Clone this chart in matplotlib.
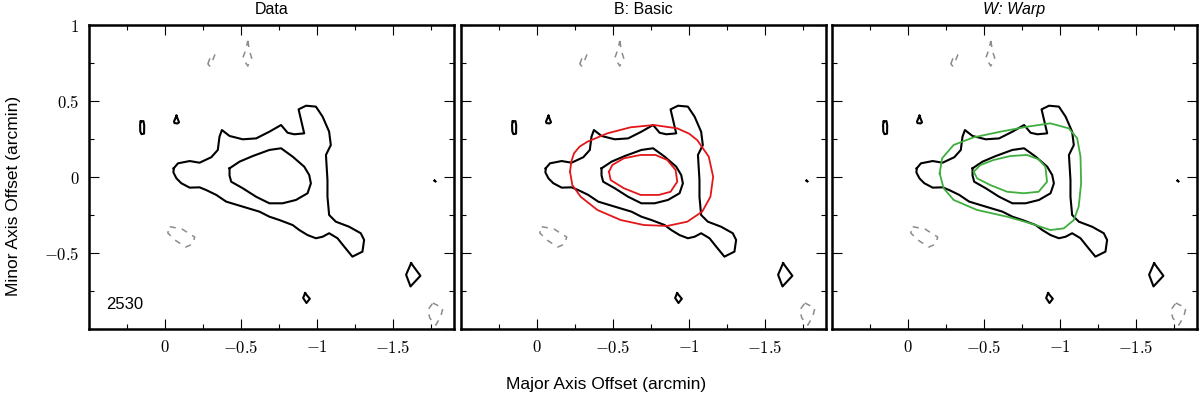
import numpy as np
import matplotlib.pyplot as plt
from matplotlib.ticker import MultipleLocator, FuncFormatter

plt.rcParams['mathtext.fontset'] = 'cm'
plt.rcParams['font.family'] = ['Liberation Sans', 'DejaVu Sans']

# observed contours: (major axis offset, minor axis offset) in arcmin
data_outer = [(-0.057, 0.057), (-0.085, 0.09), (-0.162, 0.105), (-0.227, 0.094), (-0.304, 0.13),
              (-0.347, 0.178), (-0.358, 0.265), (-0.374, 0.309), (-0.424, 0.27), (-0.511, 0.248),
              (-0.599, 0.254), (-0.686, 0.298), (-0.763, 0.342), (-0.806, 0.291), (-0.85, 0.281),
              (-0.915, 0.287), (-0.878, 0.445), (-0.927, 0.469), (-0.992, 0.463), (-1.036, 0.397),
              (-1.079, 0.298), (-1.09, 0.21), (-1.058, 0.145), (-1.068, -0.02), (-1.068, -0.13),
              (-1.079, -0.25), (-1.123, -0.294), (-1.21, -0.327), (-1.287, -0.37), (-1.309, -0.414),
              (-1.298, -0.491), (-1.232, -0.524), (-1.178, -0.458), (-1.134, -0.403), (-1.079, -0.37),
              (-1.036, -0.393), (-0.992, -0.403), (-0.937, -0.382), (-0.883, -0.349), (-0.839, -0.316),
              (-0.752, -0.283), (-0.686, -0.261), (-0.621, -0.228), (-0.511, -0.195), (-0.402, -0.162),
              (-0.337, -0.118), (-0.271, -0.086), (-0.227, -0.068), (-0.162, -0.07), (-0.107, -0.041),
              (-0.075, -0.009), (-0.055, 0.03)]
data_inner = [(-0.424, 0.057), (-0.49, 0.101), (-0.577, 0.138), (-0.686, 0.178), (-0.763, 0.189),
              (-0.839, 0.134), (-0.915, 0.068), (-0.948, 0.013), (-0.959, -0.042), (-0.937, -0.107),
              (-0.861, -0.151), (-0.773, -0.173), (-0.686, -0.173), (-0.599, -0.13), (-0.511, -0.074),
              (-0.435, -0.031), (-0.424, 0.01)]
blob_a = [(0.160, 0.365), (0.142, 0.368), (0.137, 0.34), (0.138, 0.285), (0.155, 0.282),
          (0.163, 0.30), (0.164, 0.345)]
blob_b = [(-0.075, 0.403), (-0.092, 0.36), (-0.082, 0.352), (-0.062, 0.355), (-0.059, 0.365)]
blob_c = [(-0.921, -0.764), (-0.952, -0.801), (-0.93, -0.829), (-0.908, -0.796)]
blob_d = [(-1.618, -0.567), (-1.679, -0.65), (-1.614, -0.72), (-1.585, -0.643)]
blob_dot = [(-1.772, -0.024), (-1.778, -0.029)]
black_contours = [data_outer, data_inner, blob_a, blob_b, blob_c, blob_d, blob_dot]

# negative contours (dashed grey)
neg_a = [(-0.281, 0.743), (-0.301, 0.796), (-0.327, 0.803), (-0.314, 0.77), (-0.294, 0.730)]
neg_b = [(-0.544, 0.895), (-0.557, 0.822), (-0.570, 0.783), (-0.544, 0.730), (-0.511, 0.783),
         (-0.531, 0.836)]
neg_c = [(-0.031, -0.327), (-0.111, -0.342), (-0.195, -0.395), (-0.182, -0.441), (-0.136, -0.461),
         (-0.064, -0.414), (-0.018, -0.368)]
neg_d = [(-1.761, -0.829), (-1.827, -0.862), (-1.814, -0.914), (-1.781, -0.974), (-1.741, -0.928),
         (-1.728, -0.875)]
grey_contours = [neg_a, neg_b, neg_c, neg_d]

# model B: basic
basic_outer = [(-0.217, 0.035), (-0.225, 0.1), (-0.243, 0.156), (-0.28, 0.2), (-0.331, 0.232),
               (-0.462, 0.287), (-0.615, 0.327), (-0.768, 0.342), (-0.922, 0.32), (-1.0, 0.285),
               (-1.053, 0.243), (-1.129, 0.134), (-1.158, 0.002), (-1.14, -0.13), (-1.086, -0.228),
               (-0.988, -0.294), (-0.856, -0.322), (-0.703, -0.316), (-0.55, -0.283), (-0.397, -0.217),
               (-0.287, -0.13), (-0.232, -0.053)]
basic_inner = [(-0.473, 0.035), (-0.495, 0.079), (-0.571, 0.123), (-0.681, 0.145), (-0.779, 0.145),
               (-0.856, 0.112), (-0.911, 0.046), (-0.922, -0.031), (-0.878, -0.097), (-0.801, -0.118),
               (-0.681, -0.118), (-0.571, -0.074), (-0.484, -0.02)]

# model W: warp
warp_outer = [(-0.208, 0.024), (-0.224, 0.123), (-0.3, 0.211), (-0.432, 0.261), (-0.607, 0.298),
              (-0.783, 0.331), (-0.936, 0.353), (-1.057, 0.32), (-1.112, 0.255), (-1.134, 0.134),
              (-1.138, -0.041), (-1.122, -0.195), (-1.09, -0.283), (-1.024, -0.338), (-0.936, -0.349),
              (-0.805, -0.305), (-0.651, -0.261), (-0.454, -0.217), (-0.3, -0.151), (-0.234, -0.074)]
warp_inner = [(-0.432, 0.035), (-0.476, 0.079), (-0.563, 0.112), (-0.673, 0.138), (-0.783, 0.145),
              (-0.859, 0.116), (-0.903, 0.068), (-0.914, -0.031), (-0.859, -0.097), (-0.761, -0.107),
              (-0.651, -0.097), (-0.541, -0.053), (-0.454, -0.009)]

titles = ['Data', 'B: Basic', 'W: Warp']
models = [[], [basic_outer, basic_inner], [warp_outer, warp_inner]]
model_colors = [None, '#e3161a', '#3fae3f']
galaxy = '2530'


def loop(pts):
    a = np.array(pts + pts[:1])
    return a[:, 0], a[:, 1]


def tick_fmt(skip):
    return FuncFormatter(lambda v, p: '' if abs(v - skip) < 1e-6 else r'$%g$' % v)


fig = plt.figure(figsize=(12, 3.98), dpi=100)
lefts = [89 / 1200, 461 / 1200, 832 / 1200]

for i, left in enumerate(lefts):
    ax = fig.add_axes([left, 1 - 329 / 398, 365 / 1200, 304 / 398])
    for c in black_contours:
        ax.plot(*loop(c), color='k', lw=1.5)
    for c in grey_contours:
        ax.plot(*loop(c), color='0.55', lw=1.1, ls=(0, (4, 4)))
    for c in models[i]:
        ax.plot(*loop(c), color=model_colors[i], lw=1.3)

    ax.set_xlim(0.5, -1.9)
    ax.set_ylim(-1, 1)
    ax.xaxis.set_major_locator(MultipleLocator(0.5))
    ax.xaxis.set_minor_locator(MultipleLocator(0.25))
    ax.yaxis.set_major_locator(MultipleLocator(0.5))
    ax.yaxis.set_minor_locator(MultipleLocator(0.25))
    ax.xaxis.set_major_formatter(tick_fmt(0.5))
    ax.yaxis.set_major_formatter(tick_fmt(-1))
    ax.tick_params(which='both', direction='in', top=True, right=True, width=0.8, labelsize=12)
    ax.tick_params(which='major', length=7, pad=7)
    ax.tick_params(which='minor', length=3.5)
    if i > 0:
        ax.tick_params(labelleft=False)
    for s in ax.spines.values():
        s.set_linewidth(1.8)
    ax.set_title(titles[i], fontsize=11.5, pad=8, fontstyle='italic' if i == 2 else 'normal')
    if i == 0:
        ax.text(0.047, 0.066, galaxy, transform=ax.transAxes, fontsize=12)

fig.text(606 / 1200, 0.033, 'Major Axis Offset (arcmin)', ha='center', va='center', fontsize=12.5)
fig.text(0.011, 0.508, 'Minor Axis Offset (arcmin)', ha='center', va='center', rotation=90, fontsize=12.5)

fig.savefig('out.png', dpi=100)
